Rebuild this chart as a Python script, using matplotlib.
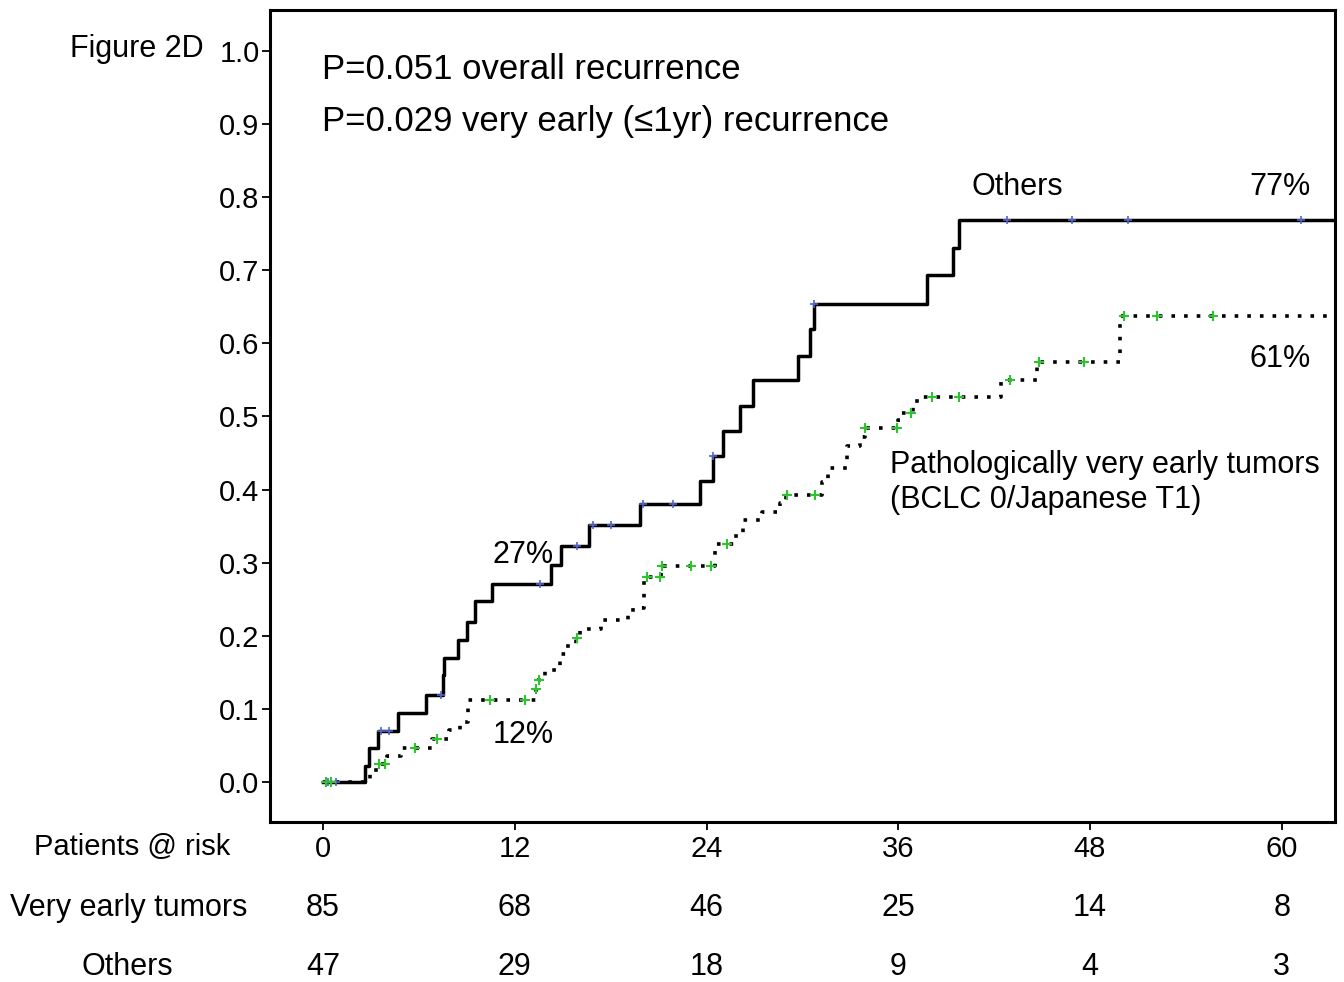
import numpy as np
import matplotlib
matplotlib.use("Agg")
import matplotlib.pyplot as plt

plt.rcParams['font.family'] = ['Liberation Sans', 'DejaVu Sans']

# cumulative recurrence, step times (months) and values
others_t = [0, 2.6, 2.9, 3.45, 4.7, 6.45, 7.5, 7.6, 8.45, 9.0, 9.5, 10.55, 14.25,
            14.9, 16.65, 19.84, 23.6, 24.4, 25.0, 26.1, 26.9, 29.7, 30.5, 30.7,
            37.8, 39.4, 39.8]
others_y = [0, 0.022, 0.046, 0.070, 0.095, 0.119, 0.146, 0.170, 0.194, 0.219,
            0.247, 0.271, 0.297, 0.323, 0.351, 0.380, 0.412, 0.446, 0.480, 0.515,
            0.550, 0.583, 0.620, 0.654, 0.693, 0.730, 0.769]
others_cens = [0.3, 0.8, 3.6, 4.1, 7.4, 13.6, 15.9, 16.9, 18.0, 20.0, 21.9, 24.4,
               30.75, 42.8, 46.9, 50.4, 61.2]

early_t = [0, 2.95, 3.3, 4.0, 4.9, 6.8, 7.9, 8.6, 9.1, 13.3, 13.45, 13.9, 14.8,
           15.2, 15.8, 16.1, 17.4, 19.1, 19.4, 20.1, 21.15, 24.5, 25.7, 26.3, 27.5,
           28.6, 29.0, 31.2, 31.6, 32.8, 33.6, 33.9, 36.0, 36.2, 36.9, 37.2, 42.4,
           44.7, 49.9]
early_y = [0, 0.012, 0.024, 0.035, 0.047, 0.059, 0.071, 0.082, 0.112, 0.127, 0.140,
           0.153, 0.175, 0.186, 0.197, 0.209, 0.221, 0.228, 0.238, 0.281, 0.296,
           0.326, 0.337, 0.358, 0.370, 0.381, 0.393, 0.410, 0.429, 0.459, 0.472,
           0.484, 0.495, 0.505, 0.516, 0.527, 0.550, 0.575, 0.637]
early_cens = [0.2, 0.5, 3.5, 3.9, 5.76, 7.1, 10.45, 12.64, 13.35, 13.5, 15.9, 20.25,
              21.1, 21.2, 23.0, 24.3, 25.3, 29.05, 30.8, 33.9, 35.9, 36.8, 38.1,
              39.8, 43.0, 44.8, 47.6, 50.1, 52.2, 55.7]

risk_months = [0, 12, 24, 36, 48, 60]
risk_early = [85, 68, 46, 25, 14, 8]
risk_others = [47, 29, 18, 9, 4, 3]

x_end = 63.5


def at(ts, ys, t):
    i = np.searchsorted(ts, t, side='right') - 1
    return ys[i]


fig = plt.figure(figsize=(13.44, 9.82), dpi=100)
ax = fig.add_axes([0.2009, 0.1629, 0.7924, 0.8269])

ax.step(others_t + [x_end], others_y + [others_y[-1]], where='post',
        color='black', lw=2.5, zorder=3)
ax.step(early_t + [x_end], early_y + [early_y[-1]], where='post',
        color='black', lw=2.6, linestyle=(0, (1, 2.5)), dash_capstyle='butt',
        zorder=3)

ax.plot(others_cens, [at(others_t, others_y, t) for t in others_cens], '+',
        color='#4f63c9', ms=6, mew=1.2, zorder=4)
ax.plot(early_cens, [at(early_t, early_y, t) for t in early_cens], '+',
        color='#2ec42e', ms=6.5, mew=1.5, zorder=4)

ax.set_xlim(-3.32, 63.33)
ax.set_ylim(-0.0547, 1.056)
ax.set_xticks(risk_months)
ax.set_yticks(np.arange(0, 1.01, 0.1))
ax.set_yticklabels(['%.1f' % v for v in np.arange(0, 1.01, 0.1)])
ax.tick_params(labelsize=21, length=6, width=1.3)
ax.tick_params(axis='y', pad=1.5)
ax.tick_params(axis='x', pad=3)
for s in ax.spines.values():
    s.set_linewidth(2.2)

ax.text(-0.05, 0.975, 'P=0.051 overall recurrence', fontsize=25, va='center')
ax.text(-0.05, 0.904, 'P=0.029 very early (\u22641yr) recurrence', fontsize=25,
        va='center')
ax.text(40.6, 0.814, 'Others', fontsize=22, va='center')
ax.text(61.8, 0.814, '77%', fontsize=22, va='center', ha='right')
ax.text(61.8, 0.578, '61%', fontsize=22, va='center', ha='right')
ax.text(35.5, 0.433, 'Pathologically very early tumors', fontsize=22, va='center')
ax.text(35.5, 0.386, '(BCLC 0/Japanese T1)', fontsize=22, va='center')
ax.text(10.6, 0.310, '27%', fontsize=22, va='center')
ax.text(10.6, 0.064, '12%', fontsize=22, va='center')

fig.text(0.052, 0.950, 'Figure 2D', fontsize=22, va='center')

# patients at risk table below the axis
row_y = [0.1375, 0.0755, 0.015]
fig.text(0.098, row_y[0], 'Patients @ risk', fontsize=21, ha='center', va='center')
fig.text(0.096, row_y[1], 'Very early tumors', fontsize=22, ha='center', va='center')
fig.text(0.095, row_y[2], 'Others', fontsize=22, ha='center', va='center')
for m, a, b in zip(risk_months, risk_early, risk_others):
    xf = fig.transFigure.inverted().transform(ax.transData.transform((m, 0)))[0]
    fig.text(xf, row_y[1], str(a), fontsize=22, ha='center', va='center')
    fig.text(xf, row_y[2], str(b), fontsize=22, ha='center', va='center')

fig.savefig('out.png', dpi=100)
